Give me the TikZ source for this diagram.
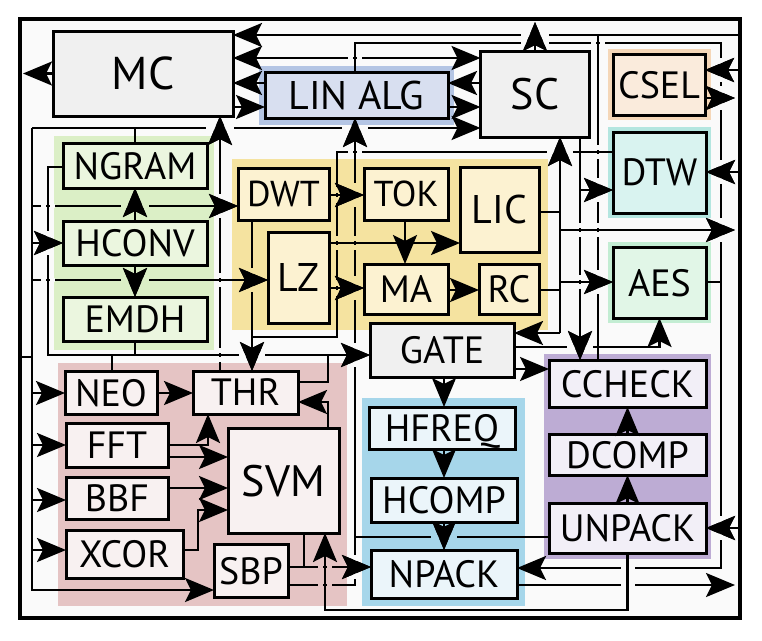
\documentclass[tikz,border=0pt]{standalone}
\usepackage{fontspec}
\setmainfont{PT Sans}
\usetikzlibrary{arrows.meta,calc}
\definecolor{bgc}{HTML}{FAFAFA}
\definecolor{gryb}{HTML}{F0F0F0}
\definecolor{linbg}{HTML}{B4C5E4}\definecolor{linbx}{HTML}{D8DFF0}
\definecolor{cselbg}{HTML}{F5D7B8}\definecolor{cselbx}{HTML}{FAEBDC}
\definecolor{dtwbg}{HTML}{B4E6E0}\definecolor{dtwbx}{HTML}{D9F3F0}
\definecolor{aesbg}{HTML}{C3EDD3}\definecolor{aesbx}{HTML}{E1F6E7}
\definecolor{grn}{HTML}{DBEFC6}\definecolor{grnbx}{HTML}{EBF6DF}
\definecolor{yel}{HTML}{F5E3A0}\definecolor{yelbx}{HTML}{FCF2D1}
\definecolor{rd}{HTML}{E5C4C4}\definecolor{rdbx}{HTML}{F8F1F1}
\definecolor{blu}{HTML}{A6D6EA}\definecolor{blubx}{HTML}{EBF5FA}
\definecolor{pur}{HTML}{BDACD4}\definecolor{purbx}{HTML}{F2EFF7}
\newcommand{\hgap}[4]{\fill[#3] (#1-#4,#2-2.3) rectangle (#1-1.9,#2+2.3); \fill[#3] (#1+1.9,#2-2.3) rectangle (#1+#4,#2+2.3);}
\newcommand{\vgap}[4]{\fill[#3] (#1-2.3,#2-#4) rectangle (#1+2.3,#2-1.9); \fill[#3] (#1-2.3,#2+1.9) rectangle (#1+2.3,#2+#4);}
\begin{document}
\begin{tikzpicture}[x=1pt,y=-1pt,
  box/.style={draw, line width=3pt, inner sep=0pt, outer sep=0pt, text depth=0pt, font=\fontsize{38}{40}\selectfont},
  wire/.style={line width=2.8pt, line join=miter},
  tip/.tip={Stealth[length=29pt 0 0,width=24pt 0,inset=6pt 0]},
  arr/.style={wire, -tip},
  arrr/.style={wire, tip-tip}]
\useasboundingbox (0,0) rectangle (762,640);
\fill[white] (0,0) rectangle (762,640);
\fill[bgc] (20,19) rectangle (740,618);
% group backgrounds
\fill[linbg] (259,66) rectangle (454,125);
\fill[cselbg] (608,49) rectangle (711,120);
\fill[dtwbg] (608,127) rectangle (711,218);
\fill[aesbg] (608,242) rectangle (711,323);
\fill[grn] (54,136) rectangle (214,350);
\fill[yel] (232,159) rectangle (548,330);
\fill[rd] (58,363) rectangle (347,606);
\fill[blu] (362,398) rectangle (525,606);
\fill[pur] (544,354) rectangle (711,559);
% boxes
\node[box, fill=gryb, minimum width=180, minimum height=85, font=\fontsize{46}{48}\selectfont] (MC) at (143,73.5) {MC};
\node[box, fill=linbx, minimum width=183, minimum height=46, font=\fontsize{40}{42}\selectfont] (LINALG) at (356.5,95) {LIN ALG};
\node[box, fill=gryb, minimum width=109, minimum height=86, font=\fontsize{44}{46}\selectfont] (SC) at (535,94) {SC};
\node[box, fill=cselbx, minimum width=92, minimum height=61] (CSEL) at (659,84.5) {CSEL};
\node[box, fill=dtwbx, minimum width=93, minimum height=81] (DTW) at (659.5,172.5) {DTW};
\node[box, fill=aesbx, minimum width=93, minimum height=71] (AES) at (659.5,282.5) {AES};
\node[box, fill=grnbx, minimum width=144, minimum height=45] (NGRAM) at (135,165.5) {NGRAM};
\node[box, fill=grnbx, minimum width=144, minimum height=44] (HCONV) at (135,243) {HCONV};
\node[box, fill=grnbx, minimum width=144, minimum height=44] (EMDH) at (135,319) {EMDH};
\node[box, fill=yelbx, minimum width=91, minimum height=52, font=\fontsize{36}{38}\selectfont] (DWT) at (283.5,194) {DWT};
\node[box, fill=yelbx, minimum width=84, minimum height=52, font=\fontsize{36}{38}\selectfont] (TOK) at (406,194) {TOK};
\node[box, fill=yelbx, minimum width=79, minimum height=85, font=\fontsize{40}{42}\selectfont] (LIC) at (499.5,209.5) {LIC};
\node[box, fill=yelbx, minimum width=61, minimum height=91, font=\fontsize{40}{42}\selectfont] (LZ) at (298.5,277.5) {LZ};
\node[box, fill=yelbx, minimum width=84, minimum height=50] (MA) at (406,289) {MA};
\node[box, fill=yelbx, minimum width=60, minimum height=50] (RC) at (509,289) {RC};
\node[box, fill=gryb, minimum width=144, minimum height=54] (GATE) at (442,350) {GATE};
\node[box, fill=rdbx, minimum width=92, minimum height=43] (NEO) at (111,392.5) {NEO};
\node[box, fill=rdbx, minimum width=105, minimum height=43] (THR) at (245.5,392.5) {THR};
\node[box, fill=rdbx, minimum width=102, minimum height=44] (FFT) at (117,445) {FFT};
\node[box, fill=rdbx, minimum width=102, minimum height=42] (BBF) at (117,498) {BBF};
\node[box, fill=rdbx, minimum width=117, minimum height=48] (XCOR) at (124.5,554) {XCOR};
\node[box, fill=rdbx, minimum width=111, minimum height=105, font=\fontsize{44}{46}\selectfont] (SVM) at (283.5,480.5) {SVM};
\node[box, fill=rdbx, minimum width=74, minimum height=53] (SBP) at (251,570.5) {SBP};
\node[box, fill=blubx, minimum width=146, minimum height=42] (HFREQ) at (442,428) {HFREQ};
\node[box, fill=blubx, minimum width=146, minimum height=44] (HCOMP) at (444,500) {HCOMP};
\node[box, fill=blubx, minimum width=146, minimum height=48] (NPACK) at (444,574) {NPACK};
\node[box, fill=purbx, minimum width=157, minimum height=47] (CCHECK) at (627.5,383.5) {CCHECK};
\node[box, fill=purbx, minimum width=157, minimum height=41] (DCOMP) at (627.5,454.5) {DCOMP};
\node[box, fill=purbx, minimum width=157, minimum height=50] (UNPACK) at (627.5,528) {UNPACK};
% free-end coordinates
\coordinate (inL) at (20,357);
\coordinate (outL) at (23,73.5);
\coordinate (topOut) at (535,22);
\coordinate (j35) at (598,35);
\coordinate (r35) at (738,35);
\coordinate (j43a) at (355,43);
\coordinate (j43b) at (721,43);
\coordinate (busT) at (32,128);
\coordinate (busB) at (32,590);
% ---- wires ----
\draw[arr] (MC.west) -- (outL);
\draw[wire] (598,0 |- CCHECK.north) -- (j35) -- (r35);
\draw[arr] (j35) -- (MC.east |- j35);
\draw[arr] (SC.north) -- (topOut);
\draw[arr] (355,0 |- LINALG.north) -- (j43a) -- (j43b) -- (721,568) -- (NPACK.east |- 0,568);
\draw[arrr] (MC.east |- 0,58) -- (SC.west |- 0,58);
\draw[arr] (SC.west |- 0,83) -- (LINALG.east |- 0,83);
\draw[arr] (LINALG.west |- 0,83) -- (MC.east |- 0,83);
\draw[arr] (MC.east |- 0,107) -- (LINALG.west |- 0,107);
\draw[arr] (LINALG.east |- 0,107) -- (SC.west |- 0,107);
% input bus
\draw[arr] (busT) -- (SC.west |- busT);
\draw[wire] (NGRAM.north) -- (NGRAM.north |- busT);
\draw[arr] (busT) -- (busB) -- (SBP.west |- busB);
\draw[wire] (inL) -- (32,357);
\draw[arr] (32,206) -- (DWT.west |- 0,206);
\draw[arr] (32,243) -- (HCONV.west |- 0,243);
\draw[arr] (32,280) -- (LZ.west |- 0,280);
\draw[arr] (32,393) -- (NEO.west |- 0,393);
\draw[arr] (32,445) -- (FFT.west |- 0,445);
\draw[arr] (32,500) -- (BBF.west |- 0,500);
\draw[arr] (32,550) -- (XCOR.west |- 0,550);
% THR -> MC
\draw[arr] (220,0 |- THR.north) -- (220,0 |- MC.south);
% to GATE
\draw[arr] (NGRAM.west |- 0,167) -- (48,167) -- (48,355) -- (GATE.west |- 0,355);
\draw[wire] (EMDH.south) -- (EMDH.south |- 0,355);
\draw[wire] (112,0 |- NEO.north) -- (112,355);
\draw[wire] (THR.east |- 0,382) -- (328,382) -- (328,355);
% green internal
\draw[arr] (HCONV.north) -- (NGRAM.south);
\draw[arr] (HCONV.south) -- (EMDH.north);
% DWT/DTW -> THR
\draw[arr] (252,0 |- DWT.south) -- (252,0 |- THR.north);
\draw[wire] (DTW.west |- 0,152) -- (337,152) -- (337,337) -- (252,337);
% yellow internal
\draw[arr] (DWT.east |- 0,195) -- (TOK.west |- 0,195);
\draw[arr] (LZ.east |- 0,243) -- (LIC.west |- 0,243);
\draw[arr] (LZ.east |- 0,288) -- (MA.west |- 0,288);
\draw[arr] (405,0 |- TOK.south) -- (405,0 |- MA.north);
\draw[arr] (MA.east |- 0,290) -- (RC.west |- 0,290);
% x=560 bus
\draw[arr] (560,333) -- (560,0 |- SC.south);
\draw[arr] (560,333) -- (GATE.east |- 0,333);
\draw[wire] (LIC.east |- 0,212) -- (560,212);
\draw[wire] (RC.east |- 0,290) -- (560,290);
\draw[arr] (560,230) -- (735,230);
\draw[arr] (560,282) -- (AES.west |- 0,282);
% SC -> DTW, CCHECK
\draw[arr] (580,0 |- SC.south) -- (580,0 |- CCHECK.north);
\draw[arr] (580,190) -- (DTW.west |- 0,190);
% GATE outputs
\draw[arr] (GATE.east |- 0,347) -| (AES.south);
\draw[arr] (GATE.east |- 0,369) -- (CCHECK.west |- 0,369);
\draw[arr] (444,0 |- GATE.south) -- (444,0 |- HFREQ.north);
\draw[arr] (444,0 |- HFREQ.south) -- (444,0 |- HCOMP.north);
\draw[arr] (HCOMP.south) -- (NPACK.north);
% purple
\draw[arr] (UNPACK.north) -- (DCOMP.south);
\draw[arr] (DCOMP.north) -- (CCHECK.south);
\draw[arr] (738,528) -- (UNPACK.east |- 0,528);
\draw[arr] (UNPACK.south) -- (UNPACK.south |- 0,610) -| (325,0 |- SVM.south);
\draw[arr] (NPACK.east |- 0,585) -- (735,585);
\draw[wire] (UNPACK.west |- 0,537) -- (355,537);
% SBP / SVM
\draw[wire] (304,0 |- SVM.south) -- (304,567);
\draw[arr] (SBP.east |- 0,567) -- (NPACK.west |- 0,567);
\draw[arr] (SBP.east |- 0,585) -- (355,585) -- (355,0 |- LINALG.south);
\draw[arr] (328,0 |- SVM.north) -- (328,402) -- (THR.east |- 0,402);
\draw[arr] (FFT.east |- 0,445) -- (208,445) -- (208,0 |- THR.south);
\draw[arr] (FFT.east |- 0,457) -- (SVM.west |- 0,457);
\draw[arr] (BBF.east |- 0,488) -- (SVM.west |- 0,488);
\draw[arr] (XCOR.east |- 0,550) -- (198,550) -- (198,510) -- (SVM.west |- 0,510);
\draw[arr] (NEO.east |- 0,393) -- (THR.west |- 0,393);
% right side externals
\draw[arr] (738,70) -- (CSEL.east |- 0,70);
\draw[arr] (CSEL.east |- 0,98) -- (735,98);
\draw[arr] (738,172) -- (DTW.east |- 0,172);
\draw[wire] (AES.east |- 0,282) -- (721,282);
% ---- crossing gaps ----
\hgap{535}{35}{bgc}{14}
\hgap{535}{43}{bgc}{14}
\hgap{598}{43}{bgc}{7}
\hgap{355}{58}{bgc}{7}
\hgap{220}{128}{bgc}{14}
\hgap{355}{128}{bgc}{13}
\hgap{355}{152}{bgc}{7}
\hgap{560}{152}{bgc}{13}
\hgap{48}{206}{bgc}{7}
\hgap{135}{206}{grn}{14}
\hgap{48}{280}{bgc}{7}
\hgap{135}{280}{grn}{14}
\hgap{252}{355}{bgc}{13}
\hgap{580}{347}{bgc}{13}
\hgap{444}{537}{blu}{13}
\hgap{325}{567}{rd}{7}
\hgap{325}{585}{rd}{7}
\hgap{627.5}{568}{bgc}{7}
\hgap{627.5}{585}{bgc}{7}
\vgap{220}{206}{bgc}{12}
\vgap{220}{280}{bgc}{7}
\vgap{220}{355}{bgc}{7}
\vgap{48}{243}{bgc}{12}
\vgap{252}{280}{yel}{12}
\vgap{337}{195}{yel}{8}
\vgap{337}{243}{yel}{7}
\vgap{337}{288}{yel}{8}
\vgap{355}{195}{yel}{12}
\vgap{355}{243}{yel}{7}
\vgap{355}{288}{yel}{12}
\vgap{355}{355}{bgc}{12}
\vgap{355}{567}{bgc}{12}
\vgap{598}{152}{bgc}{7}
\vgap{598}{190}{bgc}{12}
\vgap{598}{230}{bgc}{7}
\vgap{598}{282}{bgc}{12}
\vgap{580}{230}{bgc}{7}
\vgap{580}{282}{bgc}{7}
\vgap{721}{70}{bgc}{12}
\vgap{721}{98}{bgc}{12}
\vgap{721}{172}{bgc}{12}
\vgap{721}{230}{bgc}{12}
\vgap{721}{528}{bgc}{12}
% ---- redraw arrow tips over gaps ----
\draw[arr] (SC.north) -- (topOut);
\draw[arr] (220,142) -- (220,0 |- MC.south);
\draw[arr] (355,144) -- (355,0 |- LINALG.south);
\draw[arr] (HCONV.north) -- (NGRAM.south);
\draw[arr] (HCONV.south) -- (EMDH.north);
\draw[arr] (252,342) -- (252,0 |- THR.north);
\draw[arr] (560,162) -- (560,0 |- SC.south);
\draw[arr] (580,332) -- (580,0 |- CCHECK.north);
\draw[arr] (HCOMP.south) -- (NPACK.north);
\draw[arr] (202,206) -- (DWT.west |- 0,206);
\draw[arr] (32,243) -- (HCONV.west |- 0,243);
\draw[arr] (238,280) -- (LZ.west |- 0,280);
\draw[arr] (DWT.east |- 0,195) -- (TOK.west |- 0,195);
\draw[arr] (LZ.east |- 0,288) -- (MA.west |- 0,288);
\draw[arr] (340,355) -- (GATE.west |- 0,355);
\draw[arr] (340,567) -- (NPACK.west |- 0,567);
\draw[arr] (580,190) -- (DTW.west |- 0,190);
\draw[arr] (560,282) -- (AES.west |- 0,282);
\draw[arr] (738,70) -- (CSEL.east |- 0,70);
\draw[arr] (CSEL.east |- 0,98) -- (735,98);
\draw[arr] (738,172) -- (DTW.east |- 0,172);
\draw[arr] (700,230) -- (735,230);
\draw[arr] (738,528) -- (UNPACK.east |- 0,528);
% frame
\draw[line width=4pt] (20,19) rectangle (740,618);
\end{tikzpicture}
\end{document}
